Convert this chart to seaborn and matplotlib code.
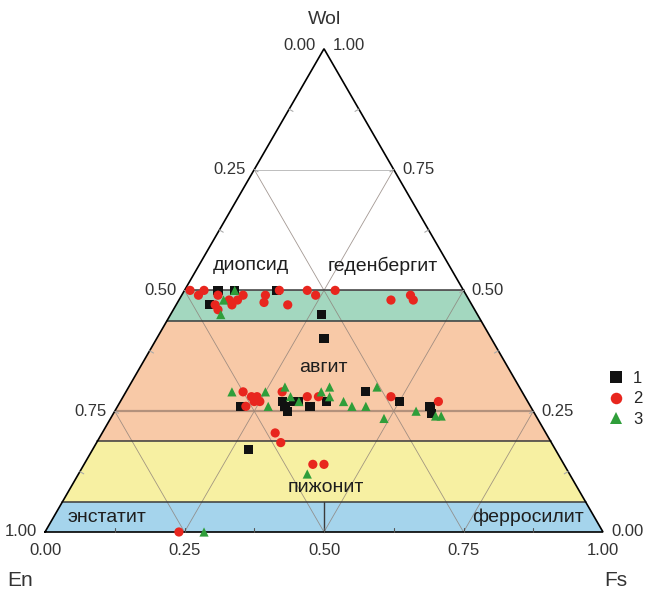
import numpy as np
import pandas as pd
import matplotlib
matplotlib.use("Agg")
import matplotlib.pyplot as plt
import seaborn as sns

# ---------------- data (mole fractions; En = 1 - Wo - Fs) ----------------
wo1 = [0.50, 0.50, 0.50, 0.47, 0.45, 0.40, 0.26, 0.27, 0.26, 0.25, 0.27, 0.27,
       0.26, 0.27, 0.29, 0.27, 0.26, 0.245, 0.17]
fs1 = [0.06, 0.09, 0.165, 0.06, 0.27, 0.30, 0.22, 0.29, 0.30, 0.31, 0.31, 0.32,
       0.345, 0.37, 0.43, 0.50, 0.56, 0.57, 0.28]

wo2 = [0.50, 0.49, 0.50, 0.49, 0.47, 0.46, 0.48, 0.47, 0.48, 0.49, 0.49, 0.50,
       0.475, 0.47, 0.50, 0.49, 0.50, 0.48, 0.49, 0.48,
       0.29, 0.28, 0.28, 0.27, 0.26, 0.27, 0.29, 0.28, 0.28, 0.28, 0.27,
       0.205, 0.185, 0.14, 0.14, 0.00]
fs2 = [0.01, 0.03, 0.035, 0.065, 0.07, 0.08, 0.09, 0.10, 0.105, 0.11, 0.15, 0.17,
       0.155, 0.20, 0.22, 0.24, 0.27, 0.38, 0.41, 0.42,
       0.21, 0.23, 0.24, 0.25, 0.23, 0.24, 0.28, 0.33, 0.35, 0.48, 0.57,
       0.31, 0.33, 0.41, 0.43, 0.24]

wo3 = [0.48, 0.45, 0.50, 0.29, 0.29, 0.30, 0.28, 0.29, 0.30, 0.28, 0.27, 0.26,
       0.26, 0.30, 0.235, 0.25, 0.24, 0.24, 0.26, 0.27, 0.12, 0.00]
fs3 = [0.08, 0.09, 0.09, 0.19, 0.25, 0.28, 0.30, 0.35, 0.36, 0.37, 0.40, 0.42,
       0.445, 0.445, 0.49, 0.54, 0.58, 0.59, 0.27, 0.32, 0.41, 0.285]

series_names = ["1", "2", "3"]
series_colors = ["#111111", "#e8261e", "#2f9e3a"]
series_markers = ["s", "o", "^"]

# pyroxene field boundaries (Wo) and names
band_limits = [0.0, 0.062, 0.188, 0.436, 0.50]
band_colors = ["#a5d4ec", "#f7f0a2", "#f8c9a7", "#a3d7bf"]
grid_levels = [0.25, 0.50, 0.75]
tick_levels = [0.0, 0.25, 0.50, 0.75, 1.0]

H = np.sqrt(3) / 2


def tern(wo, fs):
    wo = np.asarray(wo, float)
    fs = np.asarray(fs, float)
    return fs + wo / 2, wo * H


# ---------------- figure ----------------
sns.set_style("white")
plt.rcParams["font.family"] = ["Liberation Sans", "DejaVu Sans"]

fig = plt.figure(figsize=(6.46, 5.94), dpi=100)
ax = fig.add_axes([0, 0, 1, 1])
ax.set_xlim(-45 / 558, 601 / 558)
ax.set_ylim(-62 / 558, 532 / 558)
ax.set_aspect("equal")
ax.axis("off")


def px(xp, yp):
    return (xp - 45) / 558, (532 - yp) / 558


# bands
for a, b, c in zip(band_limits[:-1], band_limits[1:], band_colors):
    xs = [a / 2, 1 - a / 2, 1 - b / 2, b / 2]
    ys = [a * H, a * H, b * H, b * H]
    ax.fill(xs, ys, color=c, lw=0, zorder=1)

# grid lines
gcol = "#8c7f78"
for c in grid_levels:
    # Fs = c
    x, y = tern([0, 1 - c], [c, c])
    ax.plot(x, y, color=gcol, lw=0.6, alpha=0.8, zorder=2)
    # En = c
    x, y = tern([0, 1 - c], [1 - c, 0])
    ax.plot(x, y, color=gcol, lw=0.6, alpha=0.8, zorder=2)
    # Wo = c
    x, y = tern([c, c], [0, 1 - c])
    if c == 0.25:
        ax.plot(x, y, color="#b3917c", lw=1.6, zorder=2)
    else:
        ax.plot(x, y, color="#bdbdbd", lw=0.7, zorder=2)

# band boundary lines
for b in band_limits[1:]:
    x, y = tern([b, b], [0, 1 - b])
    ax.plot(x, y, color="#3a3a3a", lw=1.1, zorder=3)
x, y = tern([0, band_limits[1]], [0.5, 0.5 - band_limits[1] / 2])
ax.plot(x, y, color="#3a3a3a", lw=1.0, zorder=3)

# triangle frame
x, y = tern([0, 0, 1, 0], [0, 1, 0, 0])
ax.plot(x, y, color="black", lw=1.2, zorder=4, solid_joinstyle="miter")

# small ticks along edges
tl = 0.008
for t in np.arange(0.125, 1.0, 0.125):
    x, y = tern(0, t)
    ax.plot([x, x], [y, y + tl], color="#555555", lw=0.8, zorder=4)
    x, y = tern(t, 0)
    ax.plot([x, x + tl * H], [y, y - tl * 0.5], color="#aaaaaa", lw=0.8, zorder=4)
    x, y = tern(t, 1 - t)
    ax.plot([x, x - tl * H], [y, y - tl * 0.5], color="#aaaaaa", lw=0.8, zorder=4)

# data points
frames = []
for name, w, f in zip(series_names, [wo1, wo2, wo3], [fs1, fs2, fs3]):
    x, y = tern(w, f)
    frames.append(pd.DataFrame({"x": x, "y": y, "series": name}))
df = pd.concat(frames, ignore_index=True)

sns.scatterplot(data=df, x="x", y="y", hue="series", style="series",
                hue_order=series_names, style_order=series_names,
                palette=dict(zip(series_names, series_colors)),
                markers=dict(zip(series_names, series_markers)),
                s=44, linewidth=0, ax=ax, zorder=5)
ax.set_xlabel("")
ax.set_ylabel("")
sns.move_legend(ax, loc="upper left", bbox_to_anchor=(608 / 646, 1 - 371 / 594),
                frameon=False, title=None, fontsize=12, borderpad=0,
                borderaxespad=0, handlelength=1.0, handletextpad=0.5,
                labelspacing=0.32, markerscale=1.25)

# tick labels
tk = dict(fontsize=12, color="#333333", textcoords="offset points")
for v in tick_levels:
    lab = f"{v:.2f}"
    xy = tern(1 - v, 0)
    ax.annotate(lab, xy, xytext=(-6, 2 if v == 0 else 0), ha="right", va="center", **tk)
    xy = tern(v, 1 - v)
    ax.annotate(lab, xy, xytext=(6, 2 if v == 1 else 0), ha="left", va="center", **tk)
    xy = tern(0, v)
    ax.annotate(lab, xy, xytext=(0, -13), ha="center", va="center", **tk)

# axis titles
ax.text(*px(325, 20), "Wol", fontsize=14, ha="center", va="center", color="#333333")
ax.text(*px(20, 581), "En", fontsize=15, ha="center", va="center", color="#333333")
ax.text(*px(616, 581), "Fs", fontsize=15, ha="center", va="center", color="#333333")

# field names
lab = dict(fontsize=14, ha="center", va="center", color="#1e1e1e", zorder=6)
ax.text(*px(251, 266), "диопсид", **lab)
ax.text(*px(383, 266), "геденбергит", **lab)
ax.text(*px(323, 368), "авгит", **lab)
ax.text(*px(326, 488), "пижонит", **lab)
ax.text(*px(107, 517), "энстатит", **lab)
ax.text(*px(528, 517), "ферросилит", **lab)

fig.savefig("out.png", dpi=100)
